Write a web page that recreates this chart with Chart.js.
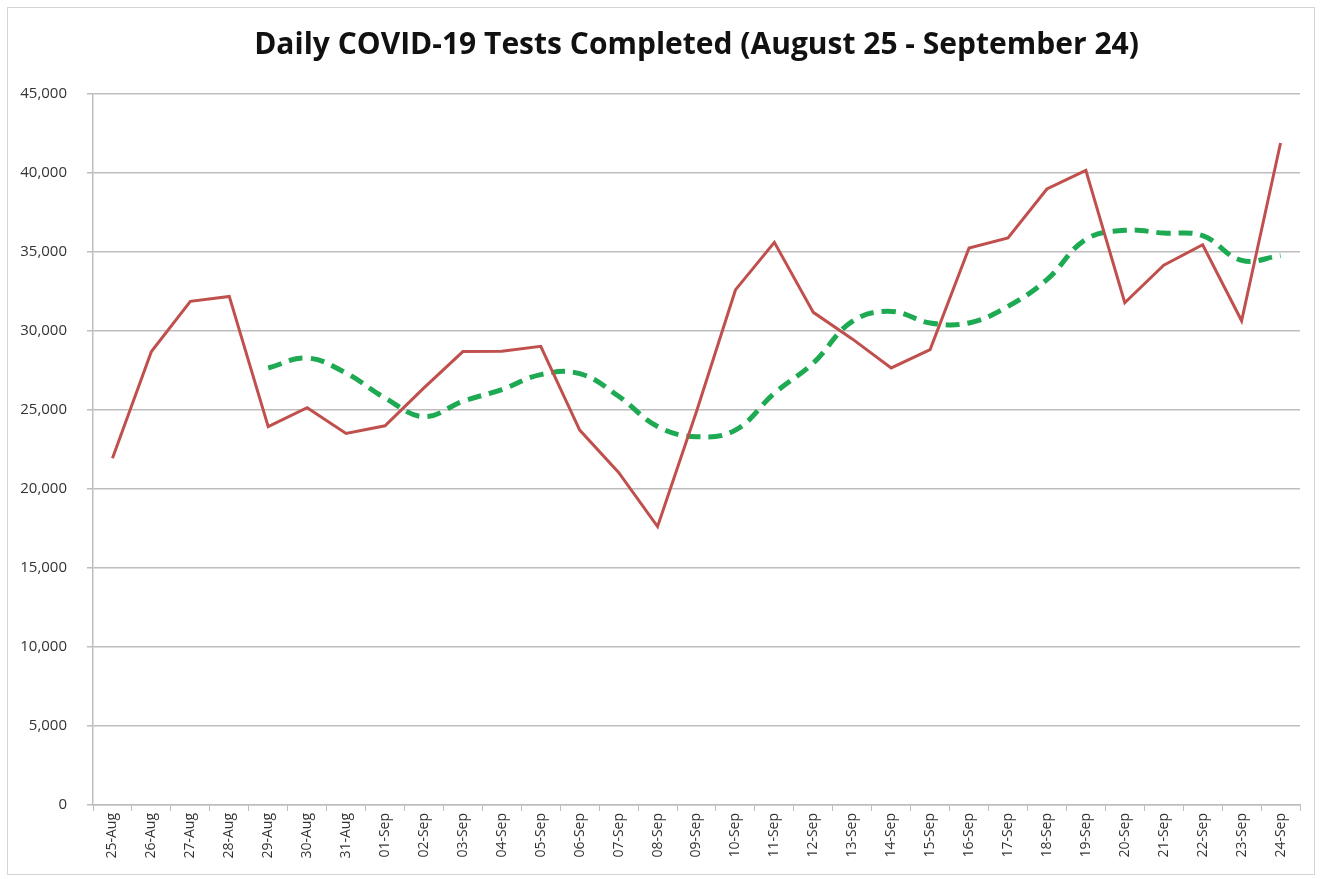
<!DOCTYPE html>
<html>
<head>
<meta charset="utf-8">
<script src="https://cdn.jsdelivr.net/npm/chart.js@4"></script>
<style>
  body { margin: 0; background: #fff; }
  #frame { position: absolute; left: 7px; top: 7px; width: 1306px; height: 866px; border: 1px solid #d4d4d4; }
</style>
</head>
<body>
<div id="frame"><canvas id="tests" width="1306" height="866"></canvas></div>
<script>
// Dates
let days = ["25-Aug", "26-Aug", "27-Aug", "28-Aug", "29-Aug", "30-Aug", "31-Aug",
  "01-Sep", "02-Sep", "03-Sep", "04-Sep", "05-Sep", "06-Sep", "07-Sep", "08-Sep",
  "09-Sep", "10-Sep", "11-Sep", "12-Sep", "13-Sep", "14-Sep", "15-Sep", "16-Sep",
  "17-Sep", "18-Sep", "19-Sep", "20-Sep", "21-Sep", "22-Sep", "23-Sep", "24-Sep"];

// Tests per day
let dailyTests = [21950, 28700, 31880, 32190, 23950, 25150, 23520,
  24000, 26400, 28700, 28720, 29030, 23730, 21050, 17620,
  24900, 32600, 35610, 31180, 29500, 27660, 28820, 35250,
  35890, 38990, 40170, 31790, 34170, 35460, 30650, 41900];

// Rolling average (starts on 29-Aug)
let rollingAvg = [null, null, null, null, 27660, 28290, 27340,
  25760, 24580, 25550, 26290, 27240, 27300, 25870, 23950,
  23310, 23730, 26060, 27970, 30610, 31240, 30510, 30510,
  31560, 33250, 35800, 36370, 36200, 36030, 34470, 34770];

// Colors
let red = "#C0504D";
let green = "#1DAA52";
let gridGrey = "#BDBDBD";

new Chart(document.getElementById("tests").getContext('2d'), {
  type: 'line',
  data: {
    labels: days,
    datasets: [{
      label: "Tests Completed",
      data: dailyTests,
      borderColor: red,
      borderWidth: 3,
      pointRadius: 0,
      tension: 0
    }, {
      label: "Rolling Average",
      data: rollingAvg,
      borderColor: green,
      borderWidth: 5,
      borderDash: [14, 8],
      pointRadius: 0,
      tension: 0.4
    }]
  },
  options: {
    responsive: false,
    animation: false,
    layout: {
      padding: { left: 4, right: 14, top: 2, bottom: 4 }
    },
    plugins: {
      legend: { display: false },
      tooltip: { enabled: false },
      title: {
        display: true,
        fullSize: false,
        text: 'Daily COVID-19 Tests Completed (August 25 - September 24)',
        color: '#111',
        font: { family: 'Open Sans', size: 30, weight: 'bold' },
        padding: { top: 17, bottom: 31 }
      }
    },
    scales: {
      x: {
        offset: true,
        grid: {
          display: true,
          offset: true,
          drawOnChartArea: false,
          drawTicks: true,
          tickLength: 6,
          color: gridGrey
        },
        border: { color: gridGrey, width: 1.5 },
        ticks: {
          color: '#333',
          font: { family: 'Open Sans', size: 14 },
          minRotation: 90,
          maxRotation: 90,
          autoSkip: false,
          padding: 2
        },
        afterFit: function(scale) { scale.height = 65; }
      },
      y: {
        min: 0,
        max: 45000,
        grid: {
          color: gridGrey,
          lineWidth: 1.5,
          tickLength: 6
        },
        border: { color: gridGrey, width: 1.5 },
        ticks: {
          stepSize: 5000,
          color: '#333',
          font: { family: 'Open Sans', size: 15 },
          padding: 20,
          callback: function(value) { return value.toLocaleString('en-US'); }
        },
        afterFit: function(scale) { scale.width = 81; }
      }
    }
  }
});
</script>
</body>
</html>
